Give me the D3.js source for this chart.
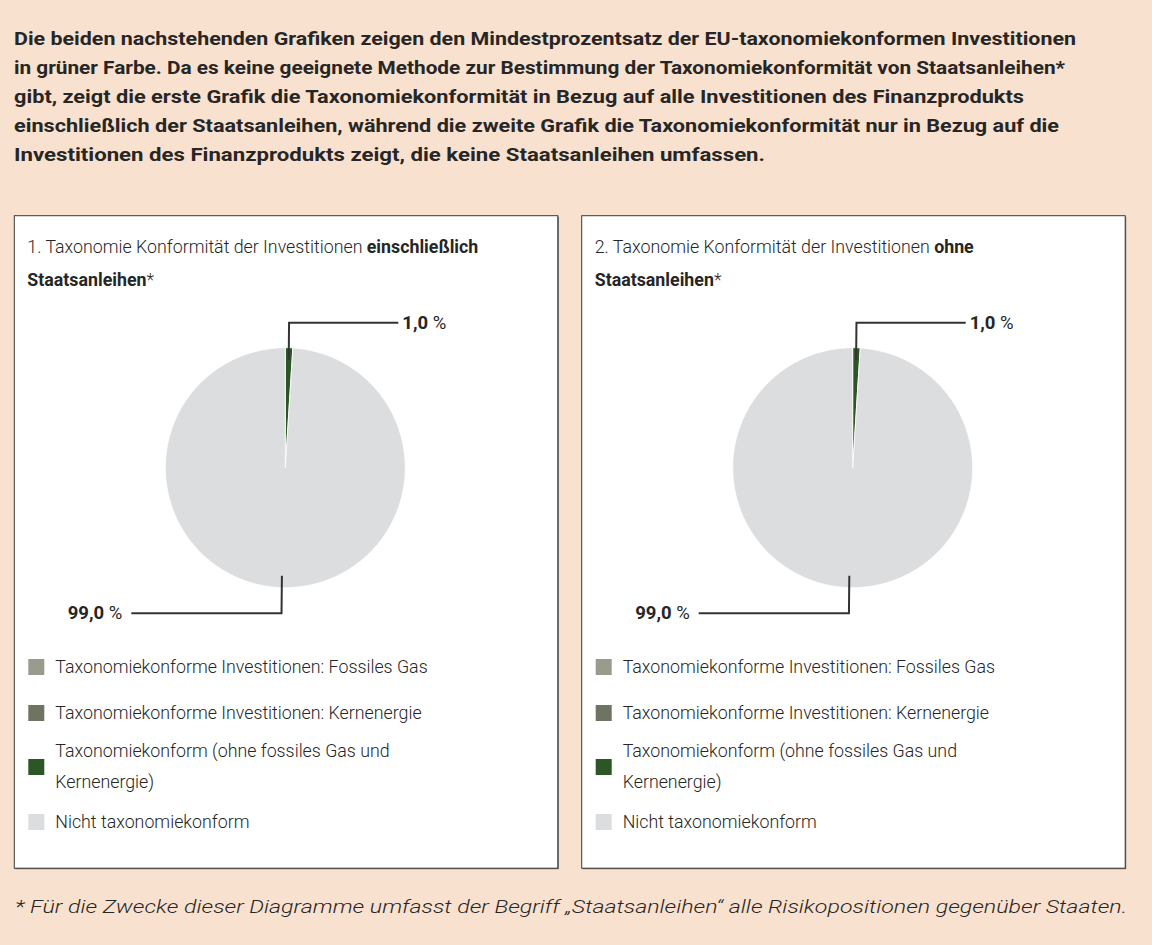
<!DOCTYPE html>
<html>
<head>
<meta charset="utf-8">
<script src="https://cdn.jsdelivr.net/npm/d3@7"></script>
<style>
  body { margin: 0; background: #f9e1cf; }
  svg { display: block; }
</style>
</head>
<body>
<svg id="chart" width="1152" height="945"></svg>
<script>
// data
const categories = [
  'Taxonomiekonforme Investitionen: Fossiles Gas',
  'Taxonomiekonforme Investitionen: Kernenergie',
  'Taxonomiekonform (ohne fossiles Gas und Kernenergie)',
  'Nicht taxonomiekonform'
]
const legendLines = [
  ['Taxonomiekonforme Investitionen: Fossiles Gas'],
  ['Taxonomiekonforme Investitionen: Kernenergie'],
  ['Taxonomiekonform (ohne fossiles Gas und', 'Kernenergie)'],
  ['Nicht taxonomiekonform']
]
const colors = ['#999b8d', '#6d7462', '#2d5626', '#dcdddf']
const valuesInclSov = [0, 0, 1.0, 99.0]
const valuesExclSov = [0, 0, 1.0, 99.0]
const panelTitles = [
  { number: '1.', normal: 'Taxonomie Konformität der Investitionen ', bold1: 'einschließlich', bold2: 'Staatsanleihen' },
  { number: '2.', normal: 'Taxonomie Konformität der Investitionen ', bold1: 'ohne', bold2: 'Staatsanleihen' }
]
const headerLines = [
  'Die beiden nachstehenden Grafiken zeigen den Mindestprozentsatz der EU-taxonomiekonformen Investitionen',
  'in grüner Farbe. Da es keine geeignete Methode zur Bestimmung der Taxonomiekonformität von Staatsanleihen*',
  'gibt, zeigt die erste Grafik die Taxonomiekonformität in Bezug auf alle Investitionen des Finanzprodukts',
  'einschließlich der Staatsanleihen, während die zweite Grafik die Taxonomiekonformität nur in Bezug auf die',
  'Investitionen des Finanzprodukts zeigt, die keine Staatsanleihen umfassen.'
]
const footnote = '* Für die Zwecke dieser Diagramme umfasst der Begriff „Staatsanleihen“ alle Risikopositionen gegenüber Staaten.'

// layout
const headerWidths = [1062, 1051, 1010, 1045, 751]
const font = 'Roboto, "Noto Sans", sans-serif'
const textColor = '#262626'
const svg = d3.select('#chart')

svg.append('rect')
   .attr('width', 1152)
   .attr('height', 945)
   .style('fill', '#f9e1cf')

let header = svg.append('g')
header.selectAll('text')
      .data(headerLines)
      .join('text')
      .text(d => d)
      .attr('x', 14)
      .attr('y', (d, i) => 45 + i*29)
      .attr('textLength', (d, i) => headerWidths[i])
      .attr('lengthAdjust', 'spacingAndGlyphs')
      .style('font-family', font)
      .style('font-weight', 'bold')
      .style('font-size', '19px')
      .style('fill', textColor)

svg.append('text')
   .text(footnote)
   .attr('x', 15)
   .attr('y', 913)
   .attr('textLength', 1112)
   .attr('lengthAdjust', 'spacingAndGlyphs')
   .style('font-family', font)
   .style('font-style', 'italic')
   .style('font-size', '19px')
   .style('font-weight', 300)
   .style('fill', textColor)

const fmt = v => d3.format('.1f')(v).replace('.', ',')

let drawPanel = (x0, values, title) => {
  const panelW = 543.5
  const panelH = 652.5
  const y0 = 215.7
  const radius = 120
  const cx = x0 + 271
  const cy = 467.7

  let panel = svg.append('g')
                 .attr('transform', `translate(${x0}, ${y0})`)

  panel.append('rect')
       .attr('x', 1)
       .attr('y', 1)
       .attr('width', panelW)
       .attr('height', panelH)
       .style('fill', '#666')

  panel.append('rect')
       .attr('width', panelW)
       .attr('height', panelH)
       .style('fill', 'white')
       .style('stroke', '#3a3a3a')
       .style('stroke-width', 1)

  let t = panel.append('text')
               .attr('x', 13)
               .attr('y', 253 - y0)
               .style('font-family', font)
               .style('font-size', '17.8px')
               .style('fill', textColor)
  t.append('tspan').text(title.number + ' ' + title.normal).style('font-weight', 300)
  t.append('tspan').text(title.bold1).style('font-weight', 'bold')

  let t2 = panel.append('text')
                .attr('x', 13)
                .attr('y', 286 - y0)
                .style('font-family', font)
                .style('font-size', '17.8px')
                .style('fill', textColor)
  t2.append('tspan').text(title.bold2).style('font-weight', 'bold')
  t2.append('tspan').text('*').style('font-weight', 300)

  // pie
  let pie = d3.pie().sort(null).value(d => d)
  let arcs = pie(values)
  let arc = d3.arc().innerRadius(0).outerRadius(radius)

  let pieG = svg.append('g')
                .attr('transform', `translate(${cx}, ${cy})`)

  pieG.selectAll('path')
      .data(arcs.filter(d => d.value > 0))
      .join('path')
      .attr('d', arc)
      .style('fill', d => colors[d.index])
      .style('stroke', 'white')
      .style('stroke-width', 0.8)

  // leader lines and labels
  arcs.filter(d => d.value > 0).forEach(d => {
    const mid = (d.startAngle + d.endAngle) / 2
    const sx = Math.sin(mid) * radius * 0.9
    const sy = -Math.cos(mid) * radius * 0.9
    const top = sy < 0
    const ey = top ? -145 : 145.6
    const ex = top ? 113 : -154
    const mx = Math.sin(mid) * radius

    pieG.append('path')
        .attr('d', d3.line()([[sx, sy], [mx, ey], [ex, ey]]))
        .style('fill', 'none')
        .style('stroke', '#333')
        .style('stroke-width', 2)

    let lab = pieG.append('text')
                  .attr('x', top ? 117 : -163)
                  .attr('y', ey + 6)
                  .style('text-anchor', top ? 'start' : 'end')
                  .style('font-family', font)
                  .style('font-size', '18.5px')
                  .style('fill', textColor)
    lab.append('tspan').text(fmt(d.value)).style('font-weight', 'bold')
    lab.append('tspan').text(' %')
  })

  // legend
  const sqCenters = [667, 713, 767, 822]
  const baselines = [[673], [719], [757, 788], [828]]
  let legend = svg.append('g')
                  .attr('transform', `translate(${x0}, 0)`)

  categories.forEach((c, i) => {
    legend.append('rect')
          .attr('x', 14)
          .attr('y', sqCenters[i] - 8)
          .attr('width', 16)
          .attr('height', 16)
          .style('fill', colors[i])

    legendLines[i].forEach((line, j) => {
      legend.append('text')
            .text(line)
            .attr('x', 41)
            .attr('y', baselines[i][j])
            .style('font-family', font)
            .style('font-size', '17.8px')
            .style('font-weight', 300)
            .style('fill', textColor)
    })
  })
}

drawPanel(14.3, valuesInclSov, panelTitles[0])
drawPanel(581.7, valuesExclSov, panelTitles[1])
</script>
</body>
</html>
